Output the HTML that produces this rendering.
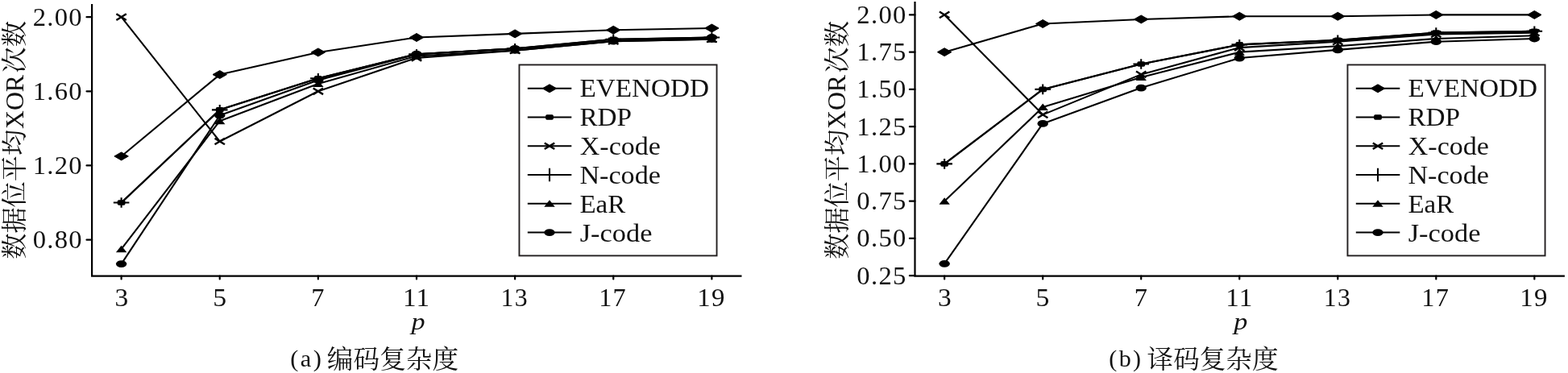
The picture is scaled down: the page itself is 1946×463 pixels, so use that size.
<!DOCTYPE html>
<html lang="zh-CN">
<head>
<meta charset="utf-8">
<title>编码复杂度与译码复杂度</title>
<style>
html,body{margin:0;padding:0;background:#fff;}
body{width:1946px;height:463px;overflow:hidden;}
svg{display:block;}
text{font-family:"Liberation Serif","Noto Serif CJK SC",serif;}
</style>
</head>
<body>
<svg width="1946" height="463" viewBox="0 0 1946 463" role="img" aria-label="编码复杂度与译码复杂度对比">
<rect width="1946" height="463" fill="#fff"/>
<polyline points="150.60,193.95 272.73,92.57 394.86,64.93 516.99,46.49 639.12,41.89 761.25,37.28 883.38,34.97" fill="none" stroke="#000" stroke-width="2.1" stroke-linejoin="round"/>
<polyline points="150.60,251.55 272.73,136.35 394.86,97.18 516.99,67.23 639.12,60.32 761.25,48.80 883.38,46.49" fill="none" stroke="#000" stroke-width="2.1" stroke-linejoin="round"/>
<polyline points="150.60,21.15 272.73,175.52 394.86,113.31 516.99,71.84 639.12,62.62 761.25,51.10 883.38,48.80" fill="none" stroke="#000" stroke-width="2.1" stroke-linejoin="round"/>
<polyline points="150.60,251.55 272.73,136.35 394.86,97.18 516.99,67.23 639.12,60.32 761.25,48.80 883.38,46.49" fill="none" stroke="#000" stroke-width="2.1" stroke-linejoin="round"/>
<polyline points="150.60,309.15 272.73,150.17 394.86,104.09 516.99,69.53 639.12,62.62 761.25,51.10 883.38,48.80" fill="none" stroke="#000" stroke-width="2.1" stroke-linejoin="round"/>
<polyline points="150.60,327.58 272.73,143.26 394.86,99.49 516.99,67.23 639.12,60.32 761.25,51.10 883.38,46.49" fill="none" stroke="#000" stroke-width="2.1" stroke-linejoin="round"/>
<path d="M141.90 193.95L150.60 188.95L159.30 193.95L150.60 198.95Z" fill="#000" stroke="#000" stroke-width="1" stroke-linejoin="round"/>
<path d="M264.03 92.57L272.73 87.57L281.43 92.57L272.73 97.57Z" fill="#000" stroke="#000" stroke-width="1" stroke-linejoin="round"/>
<path d="M386.16 64.93L394.86 59.93L403.56 64.93L394.86 69.93Z" fill="#000" stroke="#000" stroke-width="1" stroke-linejoin="round"/>
<path d="M508.29 46.49L516.99 41.49L525.69 46.49L516.99 51.49Z" fill="#000" stroke="#000" stroke-width="1" stroke-linejoin="round"/>
<path d="M630.42 41.89L639.12 36.89L647.82 41.89L639.12 46.89Z" fill="#000" stroke="#000" stroke-width="1" stroke-linejoin="round"/>
<path d="M752.55 37.28L761.25 32.28L769.95 37.28L761.25 42.28Z" fill="#000" stroke="#000" stroke-width="1" stroke-linejoin="round"/>
<path d="M874.68 34.97L883.38 29.97L892.08 34.97L883.38 39.97Z" fill="#000" stroke="#000" stroke-width="1" stroke-linejoin="round"/>
<rect x="145.70" y="248.25" width="9.80" height="6.60" rx="1.8" fill="#000"/>
<rect x="267.83" y="133.05" width="9.80" height="6.60" rx="1.8" fill="#000"/>
<rect x="389.96" y="93.88" width="9.80" height="6.60" rx="1.8" fill="#000"/>
<rect x="512.09" y="63.93" width="9.80" height="6.60" rx="1.8" fill="#000"/>
<rect x="634.22" y="57.02" width="9.80" height="6.60" rx="1.8" fill="#000"/>
<rect x="756.35" y="45.50" width="9.80" height="6.60" rx="1.8" fill="#000"/>
<rect x="878.48" y="43.19" width="9.80" height="6.60" rx="1.8" fill="#000"/>
<path d="M144.40 17.35L156.80 24.95M144.40 24.95L156.80 17.35" stroke="#000" stroke-width="2.4" fill="none"/>
<path d="M266.53 171.72L278.93 179.32M266.53 179.32L278.93 171.72" stroke="#000" stroke-width="2.4" fill="none"/>
<path d="M388.66 109.51L401.06 117.11M388.66 117.11L401.06 109.51" stroke="#000" stroke-width="2.4" fill="none"/>
<path d="M510.79 68.04L523.19 75.64M510.79 75.64L523.19 68.04" stroke="#000" stroke-width="2.4" fill="none"/>
<path d="M632.92 58.82L645.32 66.42M632.92 66.42L645.32 58.82" stroke="#000" stroke-width="2.4" fill="none"/>
<path d="M755.05 47.30L767.45 54.90M755.05 54.90L767.45 47.30" stroke="#000" stroke-width="2.4" fill="none"/>
<path d="M877.18 45.00L889.58 52.60M877.18 52.60L889.58 45.00" stroke="#000" stroke-width="2.4" fill="none"/>
<path d="M140.80 251.55L160.40 251.55M150.60 245.25L150.60 257.85" stroke="#000" stroke-width="2.1" fill="none"/>
<path d="M262.93 136.35L282.53 136.35M272.73 130.05L272.73 142.65" stroke="#000" stroke-width="2.1" fill="none"/>
<path d="M385.06 97.18L404.66 97.18M394.86 90.88L394.86 103.48" stroke="#000" stroke-width="2.1" fill="none"/>
<path d="M507.19 67.23L526.79 67.23M516.99 60.93L516.99 73.53" stroke="#000" stroke-width="2.1" fill="none"/>
<path d="M629.32 60.32L648.92 60.32M639.12 54.02L639.12 66.62" stroke="#000" stroke-width="2.1" fill="none"/>
<path d="M751.45 48.80L771.05 48.80M761.25 42.50L761.25 55.10" stroke="#000" stroke-width="2.1" fill="none"/>
<path d="M873.58 46.49L893.18 46.49M883.38 40.19L883.38 52.79" stroke="#000" stroke-width="2.1" fill="none"/>
<path d="M143.90 313.15L150.60 304.65L157.30 313.15Z" fill="#000"/>
<path d="M266.03 154.17L272.73 145.67L279.43 154.17Z" fill="#000"/>
<path d="M388.16 108.09L394.86 99.59L401.56 108.09Z" fill="#000"/>
<path d="M510.29 73.53L516.99 65.03L523.69 73.53Z" fill="#000"/>
<path d="M632.42 66.62L639.12 58.12L645.82 66.62Z" fill="#000"/>
<path d="M754.55 55.10L761.25 46.60L767.95 55.10Z" fill="#000"/>
<path d="M876.68 52.80L883.38 44.30L890.08 52.80Z" fill="#000"/>
<ellipse cx="150.60" cy="327.58" rx="6.7" ry="4.4" fill="#000"/>
<ellipse cx="272.73" cy="143.26" rx="6.7" ry="4.4" fill="#000"/>
<ellipse cx="394.86" cy="99.49" rx="6.7" ry="4.4" fill="#000"/>
<ellipse cx="516.99" cy="67.23" rx="6.7" ry="4.4" fill="#000"/>
<ellipse cx="639.12" cy="60.32" rx="6.7" ry="4.4" fill="#000"/>
<ellipse cx="761.25" cy="51.10" rx="6.7" ry="4.4" fill="#000"/>
<ellipse cx="883.38" cy="46.49" rx="6.7" ry="4.4" fill="#000"/>
<path d="M114.1 4.9L114.1 342.55L920.5 342.55" fill="none" stroke="#000" stroke-width="2.2" stroke-linejoin="miter"/>
<path d="M107.50 21.15L114.1 21.15" stroke="#000" stroke-width="2.2" stroke-linecap="round"/>
<path d="M107.50 113.31L114.1 113.31" stroke="#000" stroke-width="2.2" stroke-linecap="round"/>
<path d="M107.50 205.47L114.1 205.47" stroke="#000" stroke-width="2.2" stroke-linecap="round"/>
<path d="M107.50 297.63L114.1 297.63" stroke="#000" stroke-width="2.2" stroke-linecap="round"/>
<path d="M150.60 342.55L150.60 346.45" stroke="#000" stroke-width="2.2" stroke-linecap="round"/>
<path d="M272.73 342.55L272.73 346.45" stroke="#000" stroke-width="2.2" stroke-linecap="round"/>
<path d="M394.86 342.55L394.86 346.45" stroke="#000" stroke-width="2.2" stroke-linecap="round"/>
<path d="M516.99 342.55L516.99 346.45" stroke="#000" stroke-width="2.2" stroke-linecap="round"/>
<path d="M639.12 342.55L639.12 346.45" stroke="#000" stroke-width="2.2" stroke-linecap="round"/>
<path d="M761.25 342.55L761.25 346.45" stroke="#000" stroke-width="2.2" stroke-linecap="round"/>
<path d="M883.38 342.55L883.38 346.45" stroke="#000" stroke-width="2.2" stroke-linecap="round"/>
<polyline points="1172.15,64.65 1294.18,29.50 1416.21,23.95 1538.24,20.25 1660.27,20.25 1782.30,18.40 1904.33,18.40" fill="none" stroke="#000" stroke-width="2.1" stroke-linejoin="round"/>
<polyline points="1172.15,203.40 1294.18,110.90 1416.21,79.45 1538.24,55.40 1660.27,49.85 1782.30,40.60 1904.33,38.75" fill="none" stroke="#000" stroke-width="2.1" stroke-linejoin="round"/>
<polyline points="1172.15,18.40 1294.18,142.35 1416.21,92.40 1538.24,59.10 1660.27,51.70 1782.30,42.45 1904.33,40.60" fill="none" stroke="#000" stroke-width="2.1" stroke-linejoin="round"/>
<polyline points="1172.15,203.40 1294.18,110.90 1416.21,79.45 1538.24,55.40 1660.27,49.85 1782.30,40.60 1904.33,38.75" fill="none" stroke="#000" stroke-width="2.1" stroke-linejoin="round"/>
<polyline points="1172.15,249.65 1294.18,133.10 1416.21,96.10 1538.24,64.65 1660.27,57.25 1782.30,48.00 1904.33,44.30" fill="none" stroke="#000" stroke-width="2.1" stroke-linejoin="round"/>
<polyline points="1172.15,327.35 1294.18,153.45 1416.21,109.05 1538.24,72.05 1660.27,61.88 1782.30,51.70 1904.33,48.00" fill="none" stroke="#000" stroke-width="2.1" stroke-linejoin="round"/>
<path d="M1163.45 64.65L1172.15 59.65L1180.85 64.65L1172.15 69.65Z" fill="#000" stroke="#000" stroke-width="1" stroke-linejoin="round"/>
<path d="M1285.48 29.50L1294.18 24.50L1302.88 29.50L1294.18 34.50Z" fill="#000" stroke="#000" stroke-width="1" stroke-linejoin="round"/>
<path d="M1407.51 23.95L1416.21 18.95L1424.91 23.95L1416.21 28.95Z" fill="#000" stroke="#000" stroke-width="1" stroke-linejoin="round"/>
<path d="M1529.54 20.25L1538.24 15.25L1546.94 20.25L1538.24 25.25Z" fill="#000" stroke="#000" stroke-width="1" stroke-linejoin="round"/>
<path d="M1651.57 20.25L1660.27 15.25L1668.97 20.25L1660.27 25.25Z" fill="#000" stroke="#000" stroke-width="1" stroke-linejoin="round"/>
<path d="M1773.60 18.40L1782.30 13.40L1791.00 18.40L1782.30 23.40Z" fill="#000" stroke="#000" stroke-width="1" stroke-linejoin="round"/>
<path d="M1895.63 18.40L1904.33 13.40L1913.03 18.40L1904.33 23.40Z" fill="#000" stroke="#000" stroke-width="1" stroke-linejoin="round"/>
<rect x="1167.25" y="200.10" width="9.80" height="6.60" rx="1.8" fill="#000"/>
<rect x="1289.28" y="107.60" width="9.80" height="6.60" rx="1.8" fill="#000"/>
<rect x="1411.31" y="76.15" width="9.80" height="6.60" rx="1.8" fill="#000"/>
<rect x="1533.34" y="52.10" width="9.80" height="6.60" rx="1.8" fill="#000"/>
<rect x="1655.37" y="46.55" width="9.80" height="6.60" rx="1.8" fill="#000"/>
<rect x="1777.40" y="37.30" width="9.80" height="6.60" rx="1.8" fill="#000"/>
<rect x="1899.43" y="35.45" width="9.80" height="6.60" rx="1.8" fill="#000"/>
<path d="M1165.95 14.60L1178.35 22.20M1165.95 22.20L1178.35 14.60" stroke="#000" stroke-width="2.4" fill="none"/>
<path d="M1287.98 138.55L1300.38 146.15M1287.98 146.15L1300.38 138.55" stroke="#000" stroke-width="2.4" fill="none"/>
<path d="M1410.01 88.60L1422.41 96.20M1410.01 96.20L1422.41 88.60" stroke="#000" stroke-width="2.4" fill="none"/>
<path d="M1532.04 55.30L1544.44 62.90M1532.04 62.90L1544.44 55.30" stroke="#000" stroke-width="2.4" fill="none"/>
<path d="M1654.07 47.90L1666.47 55.50M1654.07 55.50L1666.47 47.90" stroke="#000" stroke-width="2.4" fill="none"/>
<path d="M1776.10 38.65L1788.50 46.25M1776.10 46.25L1788.50 38.65" stroke="#000" stroke-width="2.4" fill="none"/>
<path d="M1898.13 36.80L1910.53 44.40M1898.13 44.40L1910.53 36.80" stroke="#000" stroke-width="2.4" fill="none"/>
<path d="M1162.35 203.40L1181.95 203.40M1172.15 197.10L1172.15 209.70" stroke="#000" stroke-width="2.1" fill="none"/>
<path d="M1284.38 110.90L1303.98 110.90M1294.18 104.60L1294.18 117.20" stroke="#000" stroke-width="2.1" fill="none"/>
<path d="M1406.41 79.45L1426.01 79.45M1416.21 73.15L1416.21 85.75" stroke="#000" stroke-width="2.1" fill="none"/>
<path d="M1528.44 55.40L1548.04 55.40M1538.24 49.10L1538.24 61.70" stroke="#000" stroke-width="2.1" fill="none"/>
<path d="M1650.47 49.85L1670.07 49.85M1660.27 43.55L1660.27 56.15" stroke="#000" stroke-width="2.1" fill="none"/>
<path d="M1772.50 40.60L1792.10 40.60M1782.30 34.30L1782.30 46.90" stroke="#000" stroke-width="2.1" fill="none"/>
<path d="M1894.53 38.75L1914.13 38.75M1904.33 32.45L1904.33 45.05" stroke="#000" stroke-width="2.1" fill="none"/>
<path d="M1165.45 253.65L1172.15 245.15L1178.85 253.65Z" fill="#000"/>
<path d="M1287.48 137.10L1294.18 128.60L1300.88 137.10Z" fill="#000"/>
<path d="M1409.51 100.10L1416.21 91.60L1422.91 100.10Z" fill="#000"/>
<path d="M1531.54 68.65L1538.24 60.15L1544.94 68.65Z" fill="#000"/>
<path d="M1653.57 61.25L1660.27 52.75L1666.97 61.25Z" fill="#000"/>
<path d="M1775.60 52.00L1782.30 43.50L1789.00 52.00Z" fill="#000"/>
<path d="M1897.63 48.30L1904.33 39.80L1911.03 48.30Z" fill="#000"/>
<ellipse cx="1172.15" cy="327.35" rx="6.7" ry="4.4" fill="#000"/>
<ellipse cx="1294.18" cy="153.45" rx="6.7" ry="4.4" fill="#000"/>
<ellipse cx="1416.21" cy="109.05" rx="6.7" ry="4.4" fill="#000"/>
<ellipse cx="1538.24" cy="72.05" rx="6.7" ry="4.4" fill="#000"/>
<ellipse cx="1660.27" cy="61.88" rx="6.7" ry="4.4" fill="#000"/>
<ellipse cx="1782.30" cy="51.70" rx="6.7" ry="4.4" fill="#000"/>
<ellipse cx="1904.33" cy="48.00" rx="6.7" ry="4.4" fill="#000"/>
<path d="M1135.5 2.0L1135.5 342.55L1941.9 342.55" fill="none" stroke="#000" stroke-width="2.2" stroke-linejoin="miter"/>
<path d="M1128.90 18.40L1135.5 18.40" stroke="#000" stroke-width="2.2" stroke-linecap="round"/>
<path d="M1128.90 64.65L1135.5 64.65" stroke="#000" stroke-width="2.2" stroke-linecap="round"/>
<path d="M1128.90 110.90L1135.5 110.90" stroke="#000" stroke-width="2.2" stroke-linecap="round"/>
<path d="M1128.90 157.15L1135.5 157.15" stroke="#000" stroke-width="2.2" stroke-linecap="round"/>
<path d="M1128.90 203.40L1135.5 203.40" stroke="#000" stroke-width="2.2" stroke-linecap="round"/>
<path d="M1128.90 249.65L1135.5 249.65" stroke="#000" stroke-width="2.2" stroke-linecap="round"/>
<path d="M1128.90 295.90L1135.5 295.90" stroke="#000" stroke-width="2.2" stroke-linecap="round"/>
<path d="M1128.90 342.15L1135.5 342.15" stroke="#000" stroke-width="2.2" stroke-linecap="round"/>
<path d="M1172.15 342.55L1172.15 346.45" stroke="#000" stroke-width="2.2" stroke-linecap="round"/>
<path d="M1294.18 342.55L1294.18 346.45" stroke="#000" stroke-width="2.2" stroke-linecap="round"/>
<path d="M1416.21 342.55L1416.21 346.45" stroke="#000" stroke-width="2.2" stroke-linecap="round"/>
<path d="M1538.24 342.55L1538.24 346.45" stroke="#000" stroke-width="2.2" stroke-linecap="round"/>
<path d="M1660.27 342.55L1660.27 346.45" stroke="#000" stroke-width="2.2" stroke-linecap="round"/>
<path d="M1782.30 342.55L1782.30 346.45" stroke="#000" stroke-width="2.2" stroke-linecap="round"/>
<path d="M1904.33 342.55L1904.33 346.45" stroke="#000" stroke-width="2.2" stroke-linecap="round"/>
<rect x="644.45" y="80.45" width="245.10" height="236.95" fill="#fff" stroke="#231f20" stroke-width="1.9"/>
<path d="M654.80 109.80L709.30 109.80" stroke="#000" stroke-width="2.1"/>
<path d="M673.30 109.80L682.00 104.80L690.70 109.80L682.00 114.80Z" fill="#000" stroke="#000" stroke-width="1" stroke-linejoin="round"/>
<path d="M654.80 145.55L709.30 145.55" stroke="#000" stroke-width="2.1"/>
<rect x="677.10" y="142.25" width="9.80" height="6.60" rx="1.8" fill="#000"/>
<path d="M654.80 181.30L709.30 181.30" stroke="#000" stroke-width="2.1"/>
<path d="M675.80 177.50L688.20 185.10M675.80 185.10L688.20 177.50" stroke="#000" stroke-width="2.4" fill="none"/>
<path d="M654.80 217.05L709.30 217.05" stroke="#000" stroke-width="2.1"/>
<path d="M672.40 217.05L691.60 217.05M682.00 208.85L682.00 225.25" stroke="#000" stroke-width="2.1" fill="none"/>
<path d="M654.80 252.80L709.30 252.80" stroke="#000" stroke-width="2.1"/>
<path d="M675.30 256.80L682.00 248.30L688.70 256.80Z" fill="#000"/>
<path d="M654.80 288.55L709.30 288.55" stroke="#000" stroke-width="2.1"/>
<ellipse cx="682.00" cy="288.55" rx="6.7" ry="4.4" fill="#000"/>
<rect x="1672.45" y="80.45" width="245.10" height="236.95" fill="#fff" stroke="#231f20" stroke-width="1.9"/>
<path d="M1682.80 109.80L1737.30 109.80" stroke="#000" stroke-width="2.1"/>
<path d="M1701.30 109.80L1710.00 104.80L1718.70 109.80L1710.00 114.80Z" fill="#000" stroke="#000" stroke-width="1" stroke-linejoin="round"/>
<path d="M1682.80 145.55L1737.30 145.55" stroke="#000" stroke-width="2.1"/>
<rect x="1705.10" y="142.25" width="9.80" height="6.60" rx="1.8" fill="#000"/>
<path d="M1682.80 181.30L1737.30 181.30" stroke="#000" stroke-width="2.1"/>
<path d="M1703.80 177.50L1716.20 185.10M1703.80 185.10L1716.20 177.50" stroke="#000" stroke-width="2.4" fill="none"/>
<path d="M1682.80 217.05L1737.30 217.05" stroke="#000" stroke-width="2.1"/>
<path d="M1700.40 217.05L1719.60 217.05M1710.00 208.85L1710.00 225.25" stroke="#000" stroke-width="2.1" fill="none"/>
<path d="M1682.80 252.80L1737.30 252.80" stroke="#000" stroke-width="2.1"/>
<path d="M1703.30 256.80L1710.00 248.30L1716.70 256.80Z" fill="#000"/>
<path d="M1682.80 288.55L1737.30 288.55" stroke="#000" stroke-width="2.1"/>
<ellipse cx="1710.00" cy="288.55" rx="6.7" ry="4.4" fill="#000"/>
<text transform="translate(40.63 31.55) scale(1.0468 1)" font-size="31.20" letter-spacing="1.248" fill="#111">2.00</text>
<text transform="translate(40.63 123.71) scale(1.0468 1)" font-size="31.20" letter-spacing="1.248" fill="#111">1.60</text>
<text transform="translate(40.63 215.87) scale(1.0468 1)" font-size="31.20" letter-spacing="1.248" fill="#111">1.20</text>
<text transform="translate(40.63 308.03) scale(1.0468 1)" font-size="31.20" letter-spacing="1.248" fill="#111">0.80</text>
<text transform="translate(1063.33 28.80) scale(1.0468 1)" font-size="31.20" letter-spacing="1.248" fill="#111">2.00</text>
<text transform="translate(1063.33 75.05) scale(1.0468 1)" font-size="31.20" letter-spacing="1.248" fill="#111">1.75</text>
<text transform="translate(1063.33 121.30) scale(1.0468 1)" font-size="31.20" letter-spacing="1.248" fill="#111">1.50</text>
<text transform="translate(1063.33 167.55) scale(1.0468 1)" font-size="31.20" letter-spacing="1.248" fill="#111">1.25</text>
<text transform="translate(1063.33 213.80) scale(1.0468 1)" font-size="31.20" letter-spacing="1.248" fill="#111">1.00</text>
<text transform="translate(1063.33 260.05) scale(1.0468 1)" font-size="31.20" letter-spacing="1.248" fill="#111">0.75</text>
<text transform="translate(1063.33 306.30) scale(1.0468 1)" font-size="31.20" letter-spacing="1.248" fill="#111">0.50</text>
<text transform="translate(1063.33 352.55) scale(1.0468 1)" font-size="31.20" letter-spacing="1.248" fill="#111">0.25</text>
<text transform="translate(142.38 379.90) scale(1.0710 1)" font-size="31.20" letter-spacing="1.248" fill="#111">3</text>
<text transform="translate(264.16 379.90) scale(1.0817 1)" font-size="31.20" letter-spacing="1.248" fill="#111">5</text>
<text transform="translate(386.31 379.90) scale(1.0367 1)" font-size="31.20" letter-spacing="1.248" fill="#111">7</text>
<text transform="translate(499.90 379.90) scale(1.0633 1)" font-size="31.20" letter-spacing="1.248" fill="#111">11</text>
<text transform="translate(621.61 379.90) scale(1.0179 1)" font-size="31.20" letter-spacing="1.248" fill="#111">13</text>
<text transform="translate(743.19 379.90) scale(1.0347 1)" font-size="31.20" letter-spacing="1.248" fill="#111">17</text>
<text transform="translate(865.27 379.90) scale(1.0531 1)" font-size="31.20" letter-spacing="1.248" fill="#111">19</text>
<text transform="translate(1163.93 379.90) scale(1.0710 1)" font-size="31.20" letter-spacing="1.248" fill="#111">3</text>
<text transform="translate(1285.61 379.90) scale(1.0817 1)" font-size="31.20" letter-spacing="1.248" fill="#111">5</text>
<text transform="translate(1407.66 379.90) scale(1.0367 1)" font-size="31.20" letter-spacing="1.248" fill="#111">7</text>
<text transform="translate(1521.15 379.90) scale(1.0633 1)" font-size="31.20" letter-spacing="1.248" fill="#111">11</text>
<text transform="translate(1642.76 379.90) scale(1.0179 1)" font-size="31.20" letter-spacing="1.248" fill="#111">13</text>
<text transform="translate(1764.24 379.90) scale(1.0347 1)" font-size="31.20" letter-spacing="1.248" fill="#111">17</text>
<text transform="translate(1886.22 379.90) scale(1.0531 1)" font-size="31.20" letter-spacing="1.248" fill="#111">19</text>
<text transform="translate(510.45 409.41) scale(1.1219 1)" font-size="30.44" font-style="italic" fill="#111">p</text>
<text transform="translate(1531.35 409.41) scale(1.1219 1)" font-size="30.44" font-style="italic" fill="#111">p</text>
<text transform="translate(360.23 454.79) scale(1.0422 1)" font-size="29.11" letter-spacing="2.329" fill="#111">(a)</text>
<text transform="translate(405.82 457.21) scale(1.0345 1)" font-size="31.60" fill="#111">编码复杂度</text>
<text transform="translate(1376.25 454.79) scale(1.0319 1)" font-size="29.11" letter-spacing="2.329" fill="#111">(b)</text>
<text transform="translate(1423.52 457.23) scale(1.0395 1)" font-size="31.38" fill="#111">译码复杂度</text>
<text transform="translate(29.33 321.83) rotate(-90) scale(1.0054 1)" font-size="32.07" fill="#111">数据位平均</text>
<text transform="translate(28.97 160.04) rotate(-90) scale(0.9764 1)" font-size="32.54" fill="#111">XOR</text>
<text transform="translate(29.35 90.66) rotate(-90) scale(1.0164 1)" font-size="31.89" fill="#111">次数</text>
<text transform="translate(1049.53 321.83) rotate(-90) scale(1.0054 1)" font-size="32.07" fill="#111">数据位平均</text>
<text transform="translate(1049.17 160.04) rotate(-90) scale(0.9764 1)" font-size="32.54" fill="#111">XOR</text>
<text transform="translate(1049.55 90.66) rotate(-90) scale(1.0164 1)" font-size="31.89" fill="#111">次数</text>
<text transform="translate(719.40 119.63) scale(1.0625 1)" font-size="31.26" fill="#111">EVENODD</text>
<text transform="translate(719.40 155.70) scale(1.0497 1)" font-size="31.60" fill="#111">RDP</text>
<text transform="translate(719.72 191.69) scale(1.0834 1)" font-size="31.43" fill="#111">X-code</text>
<text transform="translate(719.38 227.69) scale(1.0871 1)" font-size="31.43" fill="#111">N-code</text>
<text transform="translate(719.41 263.68) scale(1.0437 1)" font-size="31.58" fill="#111">EaR</text>
<text transform="translate(719.71 299.69) scale(1.0934 1)" font-size="31.43" fill="#111">J-code</text>
<text transform="translate(1747.40 119.63) scale(1.0625 1)" font-size="31.26" fill="#111">EVENODD</text>
<text transform="translate(1747.40 155.70) scale(1.0497 1)" font-size="31.60" fill="#111">RDP</text>
<text transform="translate(1747.72 191.69) scale(1.0834 1)" font-size="31.43" fill="#111">X-code</text>
<text transform="translate(1747.38 227.69) scale(1.0871 1)" font-size="31.43" fill="#111">N-code</text>
<text transform="translate(1747.41 263.68) scale(1.0437 1)" font-size="31.58" fill="#111">EaR</text>
<text transform="translate(1747.71 299.69) scale(1.0934 1)" font-size="31.43" fill="#111">J-code</text>
</svg>
</body>
</html>
